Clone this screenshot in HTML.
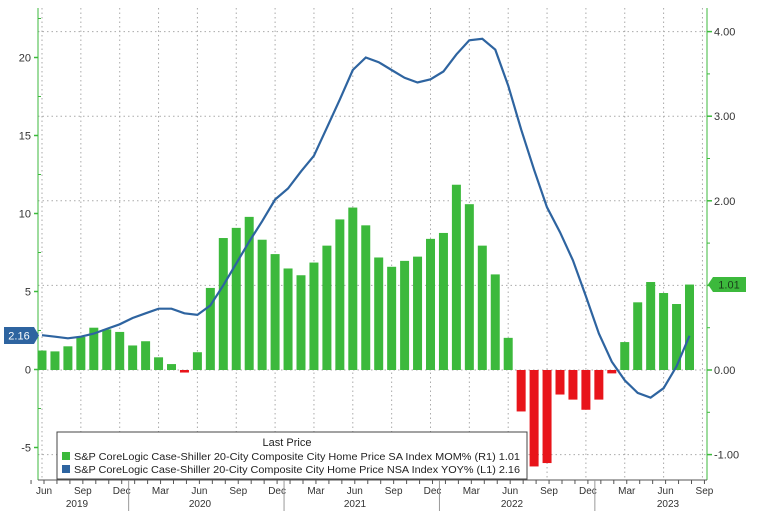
<!DOCTYPE html>
<html><head><meta charset="utf-8"><style>
body{margin:0;background:#fff;}
svg text{font-family:"Liberation Sans",sans-serif;}
</style></head><body>
<svg id="chart" width="758" height="511" xmlns="http://www.w3.org/2000/svg">
<g id="grid"></g>
<g id="bars"></g>
<g id="line"></g>
<g id="axes"></g>
<g>
<rect x="57" y="432" width="470" height="47" fill="#fff" stroke="#444" stroke-width="1"/>
<text x="287" y="446" font-size="11" text-anchor="middle" fill="#222">Last Price</text>
<rect x="62" y="452" width="8" height="8" fill="#3cb93c"/>
<text x="74" y="460" font-size="10" fill="#222" textLength="446" lengthAdjust="spacingAndGlyphs">S&amp;P CoreLogic Case-Shiller 20-City Composite City Home Price SA Index MOM%  (R1)  1.01</text>
<rect x="62" y="465" width="8" height="8" fill="#2e64a0"/>
<text x="74" y="473" font-size="10" fill="#222" textLength="446" lengthAdjust="spacingAndGlyphs">S&amp;P CoreLogic Case-Shiller 20-City Composite City Home Price NSA Index YOY%  (L1)  2.16</text>
</g>
</svg>
<script>
const momValues=[0.23,0.22,0.28,0.39,0.5,0.48,0.45,0.29,0.34,0.15,0.07,-0.03,0.21,0.97,1.56,1.68,1.81,1.54,1.37,1.2,1.12,1.27,1.47,1.78,1.92,1.71,1.33,1.22,1.29,1.34,1.55,1.62,2.19,1.96,1.47,1.13,0.38,-0.49,-1.14,-1.1,-0.29,-0.35,-0.47,-0.35,-0.04,0.33,0.8,1.04,0.91,0.78,1.01];
const yoyValues=[2.2,2.1,2.0,2.1,2.3,2.6,2.9,3.3,3.6,3.9,3.9,3.6,3.5,4.1,5.4,6.8,8.2,9.5,10.9,11.6,12.7,13.7,15.5,17.3,19.2,20.0,19.7,19.2,18.7,18.4,18.6,19.1,20.2,21.1,21.2,20.5,18.2,15.4,12.8,10.4,8.8,7.0,4.7,2.3,0.5,-0.7,-1.5,-1.8,-1.2,0.2,2.16];
const leftTicks=[20,15,10,5,0,-5];
const rightTicks=[4,3,2,1,0,-1];
const monthLabels=["Jun","Sep","Dec","Mar","Jun","Sep","Dec","Mar","Jun","Sep","Dec","Mar","Jun","Sep","Dec","Mar","Jun","Sep"];
const yearLabels=["2019","2020","2021","2022","2023"];
const NS="http://www.w3.org/2000/svg";
const xOf=i=>42+i*12.95;
const yL=v=>369.5-v*15.6;
const yR=v=>370-v*84.6;
function mk(tag,attrs,parent,txt){const e=document.createElementNS(NS,tag);for(const k in attrs)e.setAttribute(k,attrs[k]);if(txt!==undefined)e.textContent=txt;document.getElementById(parent).appendChild(e);return e;}
// grid
for(let k=0;k<18;k++){const x=xOf(k*3);const g=mk('line',{x1:x,x2:x,y1:8,y2:480,stroke:'#aaa','stroke-dasharray':'1.5,3'},'grid');

}
rightTicks.forEach(v=>{const g=mk('line',{x1:38,x2:707,y1:yR(v),y2:yR(v),stroke:'#aaa','stroke-dasharray':'1.5,3'},'grid');

});
// bars
momValues.forEach((v,i)=>{const y0=yR(0),y1=yR(v);const r=mk('rect',{x:xOf(i)-4.5,width:9,y:Math.min(y0,y1),height:Math.max(Math.abs(y1-y0),1.5),fill:v>=0?'#3cb93c':'#e8141a'},'bars');

});
// line
const p=mk('path',{d:yoyValues.map((v,i)=>(i?'L':'M')+xOf(i).toFixed(1)+','+yL(v).toFixed(1)).join(''),fill:'none',stroke:'#2e64a0','stroke-width':2.2},'line');


// axes
mk('line',{x1:38,x2:38,y1:8,y2:480,stroke:'#3cb93c'},'axes');
mk('line',{x1:707,x2:707,y1:8,y2:480,stroke:'#3cb93c'},'axes');
mk('line',{x1:38,x2:707,y1:480,y2:480,stroke:'#555'},'axes');
leftTicks.forEach(v=>{mk('line',{x1:34,x2:38,y1:yL(v),y2:yL(v),stroke:'#3cb93c','stroke-width':1.5},'axes');
mk('line',{x1:38,x2:41,y1:yL(v+2.5),y2:yL(v+2.5),stroke:'#3cb93c'},'axes');
const t=mk('text',{x:31,y:yL(v)+4,'font-size':11,'text-anchor':'end',fill:'#333'},'axes',String(v));

});
rightTicks.forEach(v=>{mk('line',{x1:707,x2:712,y1:yR(v),y2:yR(v),stroke:'#3cb93c','stroke-width':1.5},'axes');
mk('line',{x1:707,x2:710,y1:yR(v+0.5),y2:yR(v+0.5),stroke:'#3cb93c'},'axes');
const t=mk('text',{x:714,y:yR(v)+4,'font-size':11,fill:'#333'},'axes',v.toFixed(2));

});
for(let i=-1;i<=51;i++){mk('line',{x1:xOf(i)+2,x2:xOf(i)+2,y1:480,y2:484,stroke:'#555'},'axes');}
monthLabels.forEach((m,k)=>{const t=mk('text',{x:xOf(k*3)+2,y:494,'font-size':10,'text-anchor':'middle',fill:'#333'},'axes',m);

});
const yearX=[77,200,355,512,668];
yearLabels.forEach((y,k)=>{const t=mk('text',{x:yearX[k],y:507,'font-size':10,'text-anchor':'middle',fill:'#333'},'axes',y);

});
[7,19,31,43].forEach(i=>{mk('line',{x1:xOf(i)-4,x2:xOf(i)-4,y1:480,y2:511,stroke:'#999'},'axes');});
// value tags
mk('path',{d:'M4,327 H34 L39,335.5 L34,344 H4 Z',fill:'#2e64a0'},'axes');
const lt=mk('text',{x:19,y:339.5,'font-size':11,'text-anchor':'middle',fill:'#fff'},'axes','2.16');


mk('path',{d:'M708,284.5 L713,277 H746 V292 H713 Z',fill:'#3cb93c'},'axes');
const rt=mk('text',{x:729,y:288.5,'font-size':11,'text-anchor':'middle',fill:'#1a3d1a'},'axes','1.01');


</script>
</body></html>
